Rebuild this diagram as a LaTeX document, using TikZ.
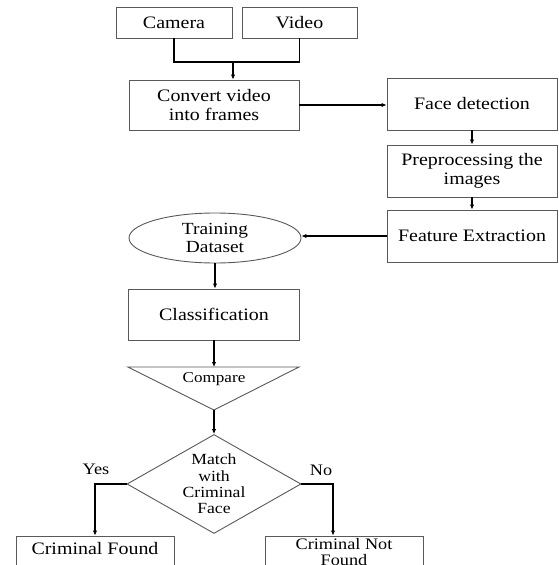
\documentclass[tikz,border=0pt]{standalone}
\usepackage{fontspec}
\setmainfont{Liberation Serif}[FakeStretch=1.14]
\usetikzlibrary{shapes.geometric,arrows.meta}
\begin{document}
\begin{tikzpicture}[x=1pt,y=-1pt,
  box/.style={draw=black!65,line width=0.9pt,rectangle,inner sep=0pt,align=center,
    font=\fontsize{17.5}{19}\selectfont},
  conn/.style={draw=black,line width=1.3pt},
  arr/.style={conn,-{Latex[length=5pt,width=4.5pt]}},
  lbl/.style={inner sep=0pt,align=center}]
\useasboundingbox (0,0) rectangle (558,565);
\clip (0,0) rectangle (558,565);
\fill[white] (0,0) rectangle (558,565);

\node[box,minimum width=116pt,minimum height=31pt] (cam) at (174,22.5) {Camera};
\node[box,minimum width=115pt,minimum height=31pt] (vid) at (299.5,22.5) {Video};
\node[box,minimum width=170pt,minimum height=50pt] (conv) at (214,105) {Convert video\\into frames};
\node[box,minimum width=170pt,minimum height=52pt] (face) at (472,104) {Face detection};
\node[box,minimum width=170pt,minimum height=52pt] (prep) at (472,171) {Preprocessing the\\images};
\node[box,minimum width=170pt,minimum height=52pt] (feat) at (472,236) {Feature Extraction};
\node[draw=black!65,line width=0.9pt,ellipse,inner sep=0pt,minimum width=172pt,minimum height=50pt,
  align=center,font=\fontsize{17}{18}\selectfont] (ell) at (215,238) {Training\\Dataset};
\node[box,minimum width=171pt,minimum height=51pt] (cls) at (214,314.5) {Classification};

\coordinate (tl) at (128,367);
\coordinate (tr) at (299,367);
\coordinate (ttop) at (214,367);
\coordinate (tapex) at (214,410);
\draw[draw=black!65,line width=0.9pt] (tl) -- (tr) -- (tapex) -- cycle;
\node[lbl,font=\fontsize{15}{16}\selectfont] (cmp) at (214,379) {Compare};

\node[draw=black!65,line width=0.9pt,diamond,inner sep=0pt,minimum width=174pt,minimum height=99pt] (dia) at (214,484) {};
\node[lbl,font=\fontsize{15.5}{16.4}\selectfont] (diat) at (214,484) {Match\\with\\Criminal\\Face};

\node[box,minimum width=158pt,minimum height=40pt] (cf) at (95,556) {};
\node[lbl,font=\fontsize{17.5}{19}\selectfont] (cft) at (95,549) {Criminal Found};
\node[box,minimum width=158pt,minimum height=40pt] (nf) at (344,556) {};
\node[lbl,font=\fontsize{16}{15.5}\selectfont] (nft) at (344,552) {Criminal Not\\Found};

\coordinate (j) at (233,62);
\draw[conn] (cam.south) |- (j) -| (vid.south);
\draw[arr] (j) -- (j |- conv.north);
\draw[arr] (conv.east) -- (conv.east -| face.west);
\draw[arr] (face.south) -- (prep.north);
\draw[arr] (prep.south) -- (feat.north);
\draw[arr] (feat.west) -- (feat.west -| ell.east);
\draw[arr] (ell.south) -- (ell.south |- cls.north);
\draw[arr] (cls.south) -- (ttop);
\draw[arr] (tapex) -- (dia.north);
\draw[arr] (dia.west) -| (cf.north);
\coordinate (nc) at (333,484);
\draw[arr] (dia.east) -- (nc) -- (nc |- nf.north);
\node[lbl,font=\fontsize{16}{17}\selectfont] (yes) at (96,469) {Yes};
\node[lbl,font=\fontsize{16}{17}\selectfont] (no) at (321,470) {No};
\end{tikzpicture}
\end{document}
